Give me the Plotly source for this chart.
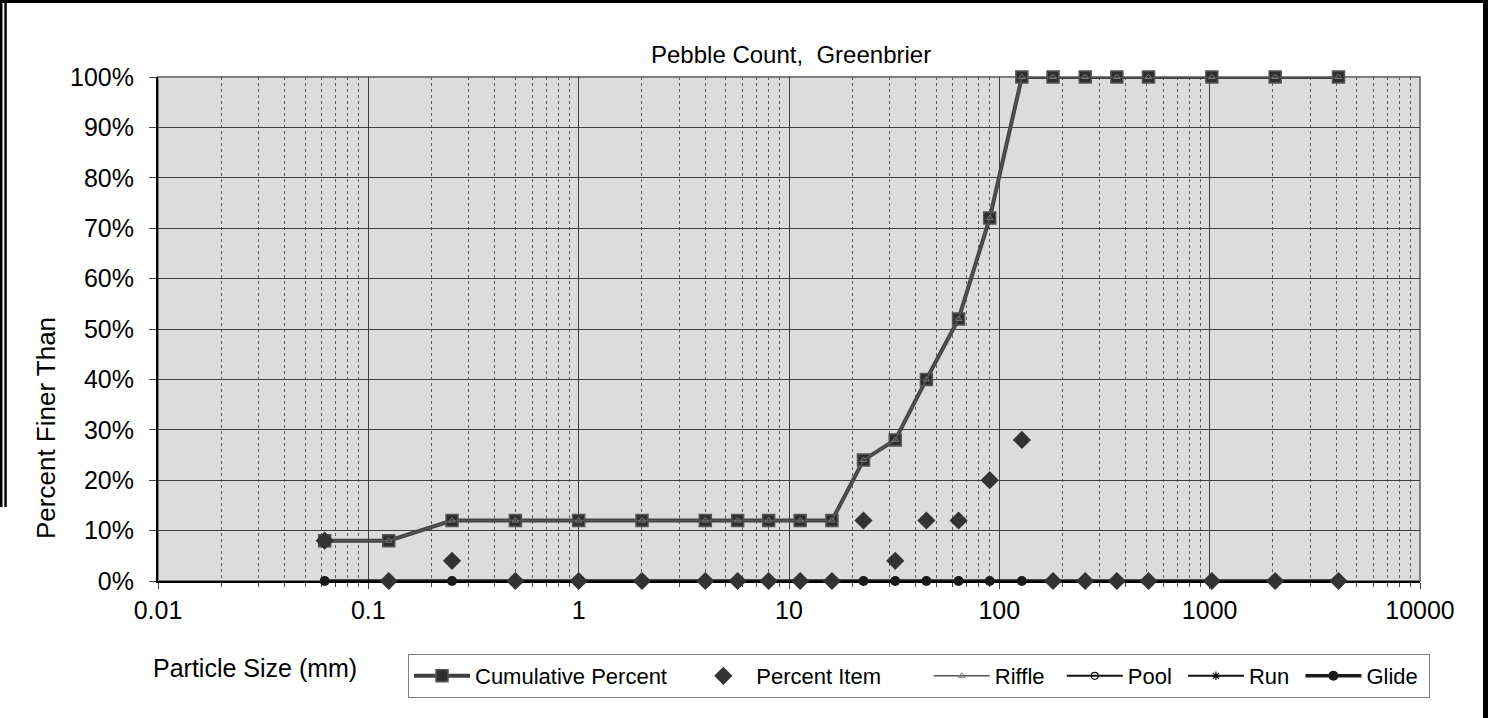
import plotly.graph_objects as go

# ---- data ----
sizes_mm = [0.062, 0.125, 0.25, 0.5, 1, 2, 4, 5.7, 8, 11.3, 16, 22.6, 32, 45, 64, 90, 128,
            180, 256, 362, 512, 1024, 2048, 4096]
cumulative_pct = [8, 8, 12, 12, 12, 12, 12, 12, 12, 12, 12, 24, 28, 40, 52, 72, 100,
                  100, 100, 100, 100, 100, 100, 100]
percent_item = [8, 0, 4, 0, 0, 0, 0, 0, 0, 0, 0, 12, 4, 12, 12, 20, 28,
                0, 0, 0, 0, 0, 0, 0]
riffle_pct = list(cumulative_pct)
pool_pct = [0] * len(sizes_mm)
run_pct = [0] * len(sizes_mm)
glide_pct = [0] * len(sizes_mm)

x_tickvals = [0.01, 0.1, 1, 10, 100, 1000, 10000]
x_ticktext = ["0.01", "0.1", "1", "10", "100", "1000", "10000"]
x_minorvals = [k * 10.0 ** e for e in range(-2, 4) for k in range(2, 10)]
y_tickvals = list(range(0, 101, 10))
y_ticktext = [f"{v}%" for v in y_tickvals]

title_text = "Pebble Count,\u00a0 Greenbrier"
x_title = "Particle Size (mm)"
y_title = "Percent Finer Than"

FONT = "Liberation Sans, Arial, sans-serif"
W, H = 1491, 718
L, R, T, B = 158, 1420, 77, 581  # plot area in px
NB = "\u00a0"


def px(xp):
    return (xp - L) / (R - L)


def py(yp):
    return (B - yp) / (B - T)


fig = go.Figure()

fig.add_trace(go.Scatter(
    x=sizes_mm, y=cumulative_pct, name="Cumulative Percent" + NB * 3, mode="lines+markers",
    line=dict(color="#404040", width=4),
    marker=dict(symbol="square", size=12, color="#2e2e2e", line=dict(color="#555555", width=1.5)),
    cliponaxis=False, legendrank=1))
fig.add_trace(go.Scatter(
    x=sizes_mm, y=riffle_pct, name="Riffle" + NB * 2, mode="lines+markers",
    line=dict(color="#555555", width=1.5),
    marker=dict(symbol="triangle-up-open", size=6, color="#777777", line=dict(width=1)),
    cliponaxis=False, legendrank=3))
fig.add_trace(go.Scatter(
    x=sizes_mm, y=pool_pct, name="Pool" + NB, mode="lines+markers",
    line=dict(color="#111111", width=2),
    marker=dict(symbol="circle-open", size=7, color="#111111", line=dict(width=1.2)),
    cliponaxis=False, legendrank=4))
fig.add_trace(go.Scatter(
    x=sizes_mm, y=run_pct, name="Run" + NB, mode="lines+markers",
    line=dict(color="#111111", width=2),
    marker=dict(symbol="asterisk-open", size=7, color="#111111", line=dict(width=1.2)),
    cliponaxis=False, legendrank=5))
fig.add_trace(go.Scatter(
    x=sizes_mm, y=glide_pct, name="Glide" + NB, mode="lines+markers",
    line=dict(color="#1a1a1a", width=3.5),
    marker=dict(symbol="circle", size=10, color="#1a1a1a"),
    cliponaxis=False, legendrank=6))
fig.add_trace(go.Scatter(
    x=sizes_mm, y=percent_item, name="Percent Item" + NB * 7, mode="markers",
    marker=dict(symbol="diamond", size=14, color="#333333"),
    cliponaxis=False, legendrank=2))

shapes = [
    # gray plot-area frame (top/right)
    dict(type="rect", xref="paper", yref="paper", x0=0, x1=1, y0=0, y1=1,
         line=dict(color="#808080", width=2), layer="below"),
    # outer black frame pieces (cropped chart border)
    dict(type="rect", xref="paper", yref="paper", x0=px(0), x1=px(1488), y0=py(0), y1=py(3),
         fillcolor="black", line=dict(width=0)),
    dict(type="rect", xref="paper", yref="paper", x0=px(1483), x1=px(1488), y0=py(0), y1=py(718),
         fillcolor="black", line=dict(width=0)),
    dict(type="rect", xref="paper", yref="paper", x0=px(0), x1=px(2.5), y0=py(0), y1=py(507),
         fillcolor="black", line=dict(width=0)),
    dict(type="rect", xref="paper", yref="paper", x0=px(4.3), x1=px(6.8), y0=py(0), y1=py(507),
         fillcolor="black", line=dict(width=0)),
]

annotations = [
    dict(text=title_text, xref="paper", yref="paper", x=px(791), y=py(55), showarrow=False,
         font=dict(family=FONT, size=24, color="black"), xanchor="center", yanchor="middle"),
    dict(text=y_title, xref="paper", yref="paper", x=px(46), y=py(428), showarrow=False,
         textangle=-90, font=dict(family=FONT, size=26, color="black"),
         xanchor="center", yanchor="middle"),
    dict(text=x_title, xref="paper", yref="paper", x=px(255), y=py(668), showarrow=False,
         font=dict(family=FONT, size=25, color="black"), xanchor="center", yanchor="middle"),
]

fig.update_layout(
    width=W, height=H,
    margin=dict(l=L, r=W - R, t=T, b=H - B, pad=0),
    paper_bgcolor="white", plot_bgcolor="#DCDCDC",
    font=dict(family=FONT, size=22, color="black"),
    showlegend=True,
    legend=dict(orientation="h", x=px(408), y=py(654), xanchor="left", yanchor="top",
                bordercolor="#808080", borderwidth=1, bgcolor="white",
                font=dict(family=FONT, size=22, color="black"),
                traceorder="normal", itemwidth=56),
    shapes=shapes, annotations=annotations,
    xaxis=dict(type="log", range=[-2, 4], tickvals=x_tickvals, ticktext=x_ticktext,
               showgrid=True, gridcolor="#404040", gridwidth=1,
               ticks="outside", ticklen=6, tickcolor="#404040",
               showline=True, linecolor="black", linewidth=2, layer="below traces",
               tickfont=dict(family=FONT, size=25, color="black"),
               minor=dict(tickvals=x_minorvals, showgrid=True, gridcolor="#5a5a5a",
                          griddash="dot", gridwidth=1, ticks="outside", ticklen=4,
                          tickcolor="#404040"),
               zeroline=False),
    yaxis=dict(range=[0, 100], tickvals=y_tickvals, ticktext=y_ticktext,
               showgrid=True, gridcolor="#404040", gridwidth=1,
               ticks="outside", ticklen=7, tickcolor="#404040",
               showline=True, linecolor="black", linewidth=2, layer="below traces",
               tickfont=dict(family=FONT, size=25, color="black"),
               zeroline=False, ticklabelstandoff=10),
)

fig.write_html("out.html")
